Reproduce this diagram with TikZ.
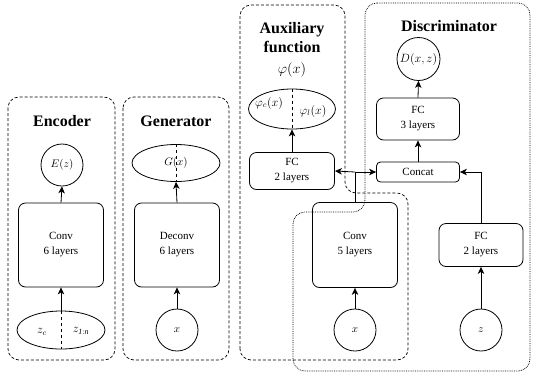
\documentclass[tikz,border=0pt]{standalone}
\usepackage{fontspec}
\setmainfont{Liberation Serif}
\usetikzlibrary{arrows.meta,shapes.geometric}

\begin{document}
\begin{tikzpicture}[x=1pt,y=-1pt,
  every node/.style={font=\fontsize{11}{15}\selectfont},
  line width=0.8pt,
  arr/.style={-{Stealth[length=7pt,width=6.5pt,inset=2pt]}},
  layerbox/.style={draw, rounded corners=7pt, align=center, inner sep=0pt, minimum width=85pt},
  roundnode/.style={draw, circle, inner sep=0pt, minimum size=42pt},
  splitnode/.style={draw, ellipse, inner sep=0pt, minimum width=88pt, minimum height=38pt},
  title/.style={font=\fontsize{16}{19}\selectfont\bfseries, align=center},
  bigmath/.style={font=\fontsize{12}{14}\selectfont},
  groupdash/.style={line width=0.7pt, dash pattern=on 3pt off 2pt, rounded corners=11pt},
  groupdot/.style={line width=0.7pt, dash pattern=on 0.8pt off 1pt, rounded corners=12pt},
]
\useasboundingbox (0,0) rectangle (533,373);

% ---------- group frames ----------
\draw[groupdash] (8,97) rectangle (115,360);
\draw[groupdash] (123,97) rectangle (229,360);
\draw[groupdash] (240,360) -- (240,5) -- (345,5) -- (345,193) -- (408,193) -- (408,360) -- cycle;
\draw[groupdot] (365,3) -- (530,3) -- (530,371) -- (293,371) -- (293,212) -- (365,212) -- cycle;

% ---------- Encoder ----------
\node[title] (enctitle) at (62,121) {Encoder};
\node[roundnode] (ez) at (62,165) {$E(z)$};
\node[layerbox, minimum height=84pt] (conv6) at (61,245) {Conv\\6 layers};
\node[splitnode] (zin) at (61,330) {};
\draw[dashed, line width=0.7pt] (zin.north) -- (zin.south);
\node[bigmath] (zc) at (42,332) {$z_c$};
\node[bigmath] (zrest) at (81,331) {$z_{\mathit{1:n}}$};
\draw[arr] (zin.north) -- (conv6.south);
\draw[arr] (conv6.north) -- (ez.south);

% ---------- Generator ----------
\node[title] (gentitle) at (176,121) {Generator};
\node[splitnode, minimum height=37pt] (gx) at (176,163) {$G(x)$};
\draw[dashed, line width=0.7pt] (gx.north) -- (gx.south);
\node[layerbox, minimum height=84pt] (deconv) at (177,245) {Deconv\\6 layers};
\node[roundnode] (xg) at (177,330) {$x$};
\draw[arr] (xg.north) -- (deconv.south);
\draw[arr] (deconv.north) -- (gx.south);

% ---------- Auxiliary function ----------
\node[title] (auxtitle) at (292,38) {Auxiliary\\function};
\node[font=\fontsize{15}{18}\selectfont] (phi) at (292,70) {$\varphi(x)$};
\node[splitnode, minimum width=87pt, minimum height=40pt] (phisplit) at (292,109) {};
\draw[dashed, line width=0.7pt] (phisplit.north) -- (phisplit.south);
\node[bigmath] (phic) at (269,103) {$\varphi_c(x)$};
\node[bigmath] (phil) at (313,111) {$\varphi_l(x)$};
\node[layerbox, minimum height=37pt] (fcaux) at (292,171) {FC\\2 layers};
\draw[arr] (fcaux.north) -- (phisplit.south);

% ---------- shared x branch ----------
\node[layerbox, minimum height=85pt] (conv5) at (355,245) {Conv\\5 layers};
\node[roundnode] (xd) at (355,330) {$x$};
\draw[arr] (xd.north) -- (conv5.south);

% ---------- Discriminator ----------
\node[title] (disctitle) at (449,26) {Discriminator};
\node[roundnode, minimum size=43pt, bigmath] (dxz) at (418.5,59) {$D(x,z)$};
\node[layerbox, minimum width=83pt, minimum height=42pt] (fc3) at (418,119) {FC\\3 layers};
\node[layerbox, minimum width=83pt, minimum height=20pt, rounded corners=4pt] (concat) at (418,172) {Concat};
\node[layerbox, minimum width=84pt, minimum height=43pt] (fcz) at (481,245) {FC\\2 layers};
\node[roundnode] (zd) at (481,330) {$z$};

\coordinate (split) at (conv5.north |- concat.west);
\draw (conv5.north) -- (split);
\draw[arr] (split) -- (fcaux.east);
\draw[arr] (split) -- (concat.west);
\draw[arr] (zd.north) -- (fcz.south);
\draw[arr] (fcz.north) |- (concat.east);
\draw[arr] (concat.north) -- (fc3.south);
\draw[arr] (fc3.north) -- (dxz.south);
\end{tikzpicture}
\end{document}
